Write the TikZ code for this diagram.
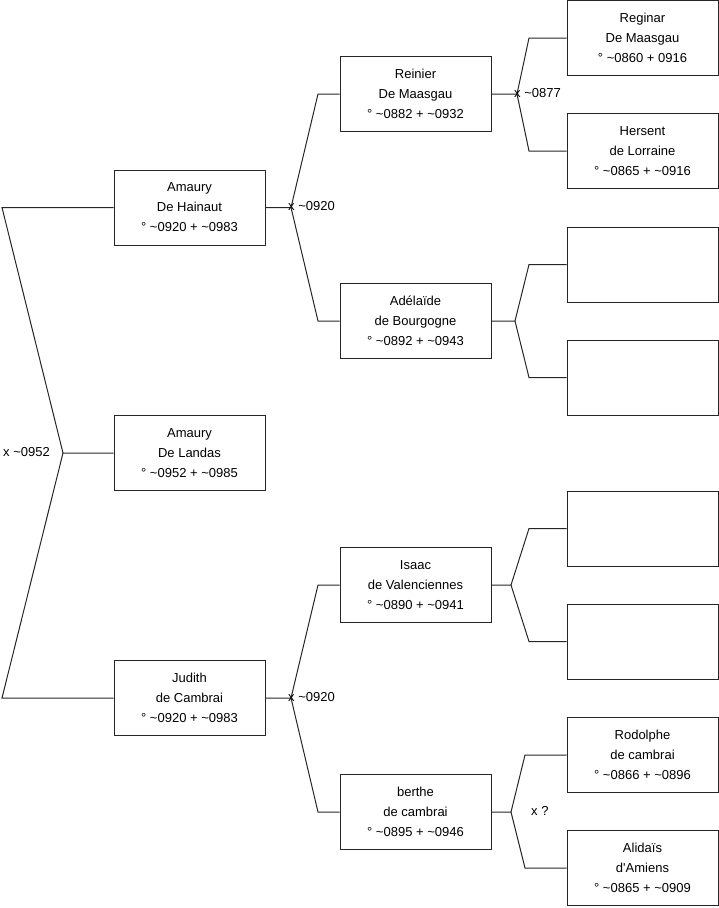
\documentclass[tikz,border=0pt]{standalone}
\usepackage{fontspec}
\setmainfont{Liberation Sans}
\begin{document}
\begin{tikzpicture}[x=1pt,y=-1pt,
  person/.style={draw=black!85, line width=1pt, rectangle, minimum width=151pt, minimum height=75pt,
    inner sep=0pt, align=center, font=\fontsize{13}{20}\selectfont, fill=white},
  link/.style={draw=black!85, line width=1pt},
  lab/.style={font=\fontsize{13}{16}\selectfont, inner sep=0pt, anchor=west}]
\useasboundingbox (0,0) rectangle (719,908);
% generation 1
\node[person] (landas) at (189.5,453) {Amaury\\De Landas\\° \textasciitilde0952 + \textasciitilde0985};
% generation 2
\node[person] (hainaut) at (189.5,207.5) {Amaury\\De Hainaut\\° \textasciitilde0920 + \textasciitilde0983};
\node[person] (judith) at (189.5,698) {Judith\\de Cambrai\\° \textasciitilde0920 + \textasciitilde0983};
% generation 3
\node[person] (reinier) at (415.5,94) {Reinier\\De Maasgau\\° \textasciitilde0882 + \textasciitilde0932};
\node[person] (adelaide) at (415.5,321) {Adélaïde\\de Bourgogne\\° \textasciitilde0892 + \textasciitilde0943};
\node[person] (isaac) at (415.5,585) {Isaac\\de Valenciennes\\° \textasciitilde0890 + \textasciitilde0941};
\node[person] (berthe) at (415.5,812) {berthe\\de cambrai\\° \textasciitilde0895 + \textasciitilde0946};
% generation 4
\node[person] (reginar) at (642.5,38) {Reginar\\De Maasgau\\° \textasciitilde0860 + 0916};
\node[person] (hersent) at (642.5,151) {Hersent\\de Lorraine\\° \textasciitilde0865 + \textasciitilde0916};
\node[person] (e1) at (642.5,264.5) {};
\node[person] (e2) at (642.5,377.5) {};
\node[person] (e3) at (642.5,528.5) {};
\node[person] (e4) at (642.5,641.5) {};
\node[person] (rodolphe) at (642.5,755) {Rodolphe\\de cambrai\\° \textasciitilde0866 + \textasciitilde0896};
\node[person] (alidais) at (642.5,868) {Alidaïs\\d\textquotesingle Amiens\\° \textasciitilde0865 + \textasciitilde0909};
% fork coordinates
\coordinate (f0) at (63,453);
\coordinate (f0a) at (2,207.5);
\coordinate (f0b) at (2,698);
\coordinate (f1) at (291,207.5);
\coordinate (f1a) at (318,94);
\coordinate (f1b) at (318,321);
\coordinate (f2) at (291,698);
\coordinate (f2a) at (318,585);
\coordinate (f2b) at (318,812);
\coordinate (f3) at (517,94);
\coordinate (f3a) at (529,38);
\coordinate (f3b) at (529,151);
\coordinate (f4) at (515,321);
\coordinate (f4a) at (529,264.5);
\coordinate (f4b) at (529,377.5);
\coordinate (f5) at (511,585);
\coordinate (f5a) at (529,528.5);
\coordinate (f5b) at (529,641.5);
\coordinate (f6) at (511,812);
\coordinate (f6a) at (525,755);
\coordinate (f6b) at (525,868);
% connectors
\draw[link] (landas.west) -- (f0) -- (f0a) -- (hainaut.west);
\draw[link] (f0) -- (f0b) -- (judith.west);
\draw[link] (hainaut.east) -- (f1) -- (f1a) -- (reinier.west);
\draw[link] (f1) -- (f1b) -- (adelaide.west);
\draw[link] (judith.east) -- (f2) -- (f2a) -- (isaac.west);
\draw[link] (f2) -- (f2b) -- (berthe.west);
\draw[link] (reinier.east) -- (f3) -- (f3a) -- (reginar.west);
\draw[link] (f3) -- (f3b) -- (hersent.west);
\draw[link] (adelaide.east) -- (f4) -- (f4a) -- (e1.west);
\draw[link] (f4) -- (f4b) -- (e2.west);
\draw[link] (isaac.east) -- (f5) -- (f5a) -- (e3.west);
\draw[link] (f5) -- (f5b) -- (e4.west);
\draw[link] (berthe.east) -- (f6) -- (f6a) -- (rodolphe.west);
\draw[link] (f6) -- (f6b) -- (alidais.west);
% marriage labels
\node[lab] (m0) at (3,452) {x \textasciitilde0952};
\node[lab] (m1) at (288,206.5) {x \textasciitilde0920};
\node[lab] (m2) at (288,697) {x \textasciitilde0920};
\node[lab] (m3) at (514,93) {x \textasciitilde0877};
\node[lab] (m4) at (531,810.5) {x ?};
\end{tikzpicture}
\end{document}
